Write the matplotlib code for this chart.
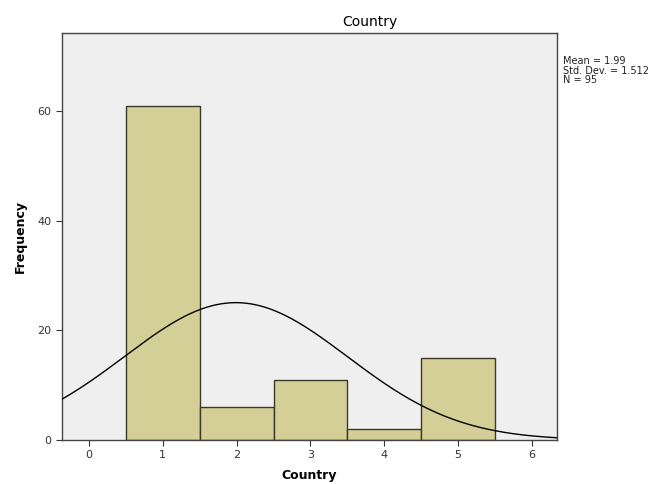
import numpy as np
from matplotlib import pyplot as plt

# histogram counts
categories = [1, 2, 3, 4, 5]
counts = [61, 6, 11, 2, 15]
mean = 1.99
std_dev = 1.512
n_total = 95

x_ticks = [0, 1, 2, 3, 4, 5, 6]
y_ticks = [0, 20, 40, 60]

fig = plt.figure(figsize=(6.67, 4.84), dpi=100)
ax = fig.add_axes([0.093, 0.091, 0.742, 0.841])
ax.set_facecolor('#efefef')

ax.bar(categories, counts, width=1.0, color='#d3cf97', edgecolor='#3a3a2a', linewidth=1.0, zorder=2)

# normal curve scaled to counts
xs = np.linspace(-0.4, 6.4, 300)
ys = n_total * 1.0 / (std_dev * np.sqrt(2 * np.pi)) * np.exp(-(xs - mean) ** 2 / (2 * std_dev ** 2))
ax.plot(xs, ys, color='black', linewidth=1.0, zorder=3)

ax.set_xlim(-0.365, 6.34)
ax.set_ylim(0, 74.3)
ax.set_xticks(x_ticks)
ax.set_yticks(y_ticks)
ax.tick_params(axis='both', labelsize=8, colors='#333333', length=4)
for s in ax.spines.values():
    s.set_color('#444444')
    s.set_linewidth(1.0)

ax.set_xlabel('Country', fontsize=9, fontweight='bold', labelpad=6)
ax.set_ylabel('Frequency', fontsize=9, fontweight='bold', labelpad=8)
fig.text(370 / 667, 1 - 22 / 484, 'Country', ha='center', va='center', fontsize=10)

fig.text(563 / 667, 1 - 56 / 484,
         f'Mean = {mean}\nStd. Dev. = {std_dev}\nN = {n_total}',
         ha='left', va='top', fontsize=7, linespacing=0.95, color='#222222')

fig.savefig('out.png', dpi=100)
